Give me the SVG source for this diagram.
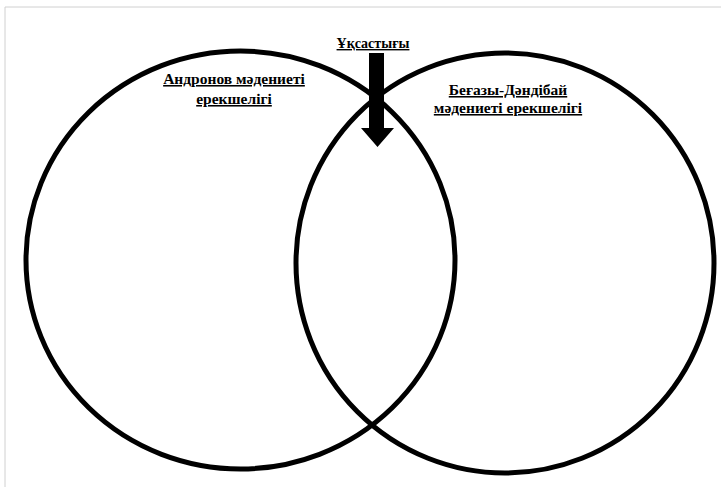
<svg xmlns="http://www.w3.org/2000/svg" width="721" height="487" viewBox="0 0 721 487">
<style>
.ring{fill:none;stroke:#000;stroke-width:5}
.lbl{font-family:"Liberation Serif","Times New Roman",serif;font-weight:bold;font-size:15.5px;text-anchor:middle;text-decoration:underline;fill:#000}
</style>
<rect width="721" height="487" fill="#fff"/>
<path d="M5 487 V7 H721" fill="none" stroke="#d0d0d0" stroke-width="1"/>
<g id="left-circle">
<ellipse class="ring" cx="240.5" cy="260" rx="214.5" ry="209"/>
<text class="lbl" x="234" y="84">Андронов мәдениеті</text>
<text class="lbl" x="234" y="104">ерекшелігі</text>
</g>
<g id="right-circle">
<ellipse class="ring" cx="505" cy="263" rx="209" ry="210"/>
<text class="lbl" x="508" y="95">Беғазы-Дәндібай</text>
<text class="lbl" x="508" y="113">мәдениеті ерекшелігі</text>
</g>
<g id="similarity">
<text class="lbl" x="373" y="48" style="font-size:14px">Ұқсастығы</text>
</g>
<g id="connectors">
<path d="M369 53 H384 V128 H394 L377.5 147 L361 128 H369 Z" fill="#000"/>
</g>
</svg>
